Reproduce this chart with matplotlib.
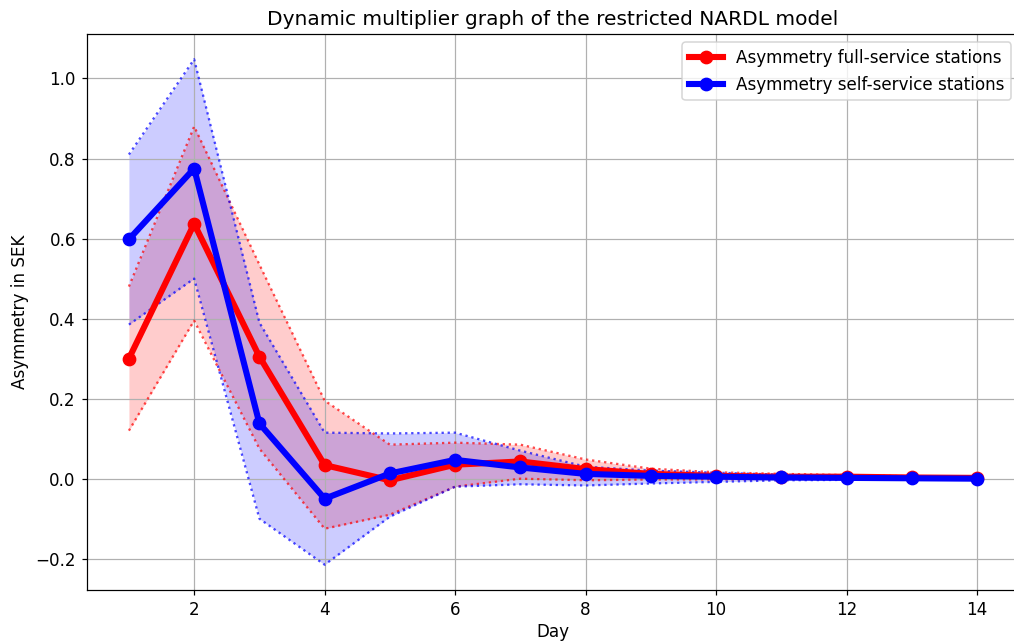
import matplotlib
matplotlib.use('Agg')
import matplotlib.pyplot as plt
import numpy as np

plt.rcParams['font.size'] = 11

days = np.arange(1, 15)

# Asymmetry full-service stations: mean and confidence bounds
full_mean = [0.300, 0.637, 0.305, 0.034, -0.004, 0.035, 0.043, 0.024, 0.012, 0.007, 0.005, 0.005, 0.003, 0.002]
full_upper = [0.480, 0.880, 0.535, 0.195, 0.085, 0.090, 0.085, 0.048, 0.025, 0.016, 0.012, 0.009, 0.006, 0.004]
full_lower = [0.120, 0.395, 0.075, -0.125, -0.090, -0.020, 0.000, -0.004, -0.002, -0.002, -0.001, 0.000, 0.000, 0.000]

# Asymmetry self-service stations: mean and confidence bounds
self_mean = [0.598, 0.775, 0.138, -0.050, 0.013, 0.047, 0.028, 0.012, 0.007, 0.005, 0.003, 0.002, 0.001, 0.000]
self_upper = [0.810, 1.048, 0.390, 0.115, 0.113, 0.115, 0.070, 0.030, 0.020, 0.015, 0.010, 0.006, 0.003, 0.002]
self_lower = [0.385, 0.500, -0.100, -0.215, -0.095, -0.020, -0.014, -0.017, -0.012, -0.008, -0.004, -0.003, -0.002, -0.001]

fig = plt.figure(figsize=(1014 / 110, 643 / 110), dpi=110)
ax = fig.add_axes([86.5 / 1014, 53 / 643, 933 / 1014, 556 / 643])

ax.fill_between(days, full_lower, full_upper, color='red', alpha=0.2, linewidth=0)
ax.plot(days, full_upper, ':', color='red', alpha=0.7, linewidth=1.5)
ax.plot(days, full_lower, ':', color='red', alpha=0.7, linewidth=1.5)

ax.fill_between(days, self_lower, self_upper, color='blue', alpha=0.2, linewidth=0)
ax.plot(days, self_upper, ':', color='blue', alpha=0.7, linewidth=1.5)
ax.plot(days, self_lower, ':', color='blue', alpha=0.7, linewidth=1.5)

ax.plot(days, full_mean, '-o', color='red', linewidth=4, markersize=8,
        label='Asymmetry full-service stations')
ax.plot(days, self_mean, '-o', color='blue', linewidth=4, markersize=8,
        label='Asymmetry self-service stations')

ax.set_title('Dynamic multiplier graph of the restricted NARDL model', fontsize=13.2)
ax.set_xlabel('Day', labelpad=3)
ax.set_ylabel('Asymmetry in SEK')
ax.grid(True)
ax.legend(loc='upper right')

plt.savefig('out.png', dpi=110)
